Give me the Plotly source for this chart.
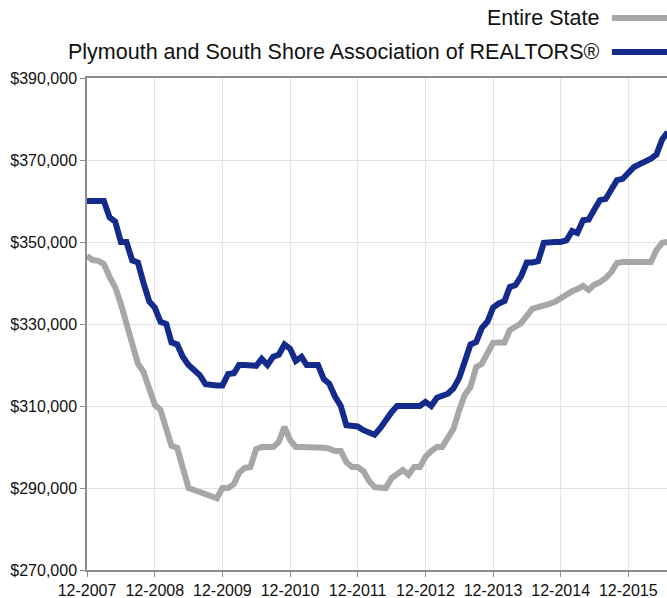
import plotly.graph_objects as go
import pandas as pd

# Monthly median sales price (rolling), Dec 2007 onward
months = pd.date_range("2007-12-01", periods=104, freq="MS")

plymouth_name = "Plymouth and South Shore Association of REALTORS®"
state_name = "Entire State"

plymouth = [
    360000, 360000, 360000, 360000, 356000, 355000, 350000, 350000, 345500, 345000,
    340000, 335500, 334000, 330500, 330000, 325500, 325000, 322000, 320000, 318800,
    317500, 315300, 315000, 315000, 315000, 317800, 318000, 320000, 320000, 320000,
    319800, 321500, 320000, 322000, 322500, 325000, 324000, 321000, 322000, 320000,
    320000, 320000, 316600, 315400, 312300, 310000, 305300, 305000, 305000, 304100,
    303700, 303000, 304600, 306600, 308500, 310000, 310000, 310000, 310000, 310000,
    311000, 310000, 312000, 312500, 313000, 314300, 316800, 320800, 325000, 325600,
    329000, 330600, 334000, 335000, 335600, 339000, 339500, 341600, 345000, 345000,
    345300, 349800, 350000, 350000, 350000, 350400, 352700, 352200, 355300, 355500,
    357900, 360200, 360500, 362600, 365100, 365400, 366800, 368300, 369000, 369600,
    370300, 371300, 375000, 376800,
]

state = [
    346600, 345600, 345400, 344600, 341500, 339000, 334900, 329800, 325400, 320300,
    318300, 314600, 310300, 309000, 304700, 300300, 299800, 295100, 290000, 289500,
    288900, 288600, 288000, 287500, 290000, 290000, 291000, 293700, 294900, 295100,
    299500, 300000, 300000, 300000, 301200, 304900, 301700, 300000, 300000, 300000,
    300000, 300000, 299800, 299600, 299000, 299000, 296300, 295100, 295100, 294100,
    291700, 290200, 290000, 290000, 292400, 293200, 294400, 293200, 295100, 295100,
    297600, 299000, 300000, 300000, 302000, 304400, 309000, 312700, 314600, 319500,
    320300, 322900, 325400, 325500, 325500, 328500, 329200, 330200, 332000, 333700,
    334100, 334400, 334900, 335400, 336300, 337300, 338000, 338500, 339300, 338300,
    339600, 340200, 341200, 342700, 344900, 345100, 345100, 345100, 345100, 345100,
    345100, 348000, 349800, 350000,
]

tick_dates = ["2007-12-01", "2008-12-01", "2009-12-01", "2010-12-01", "2011-12-01",
              "2012-12-01", "2013-12-01", "2014-12-01", "2015-12-01"]
tick_labels = ["12-2007", "12-2008", "12-2009", "12-2010", "12-2011",
               "12-2012", "12-2013", "12-2014", "12-2015"]
y_ticks = [270000, 290000, 310000, 330000, 350000, 370000, 390000]
y_labels = ["$" + f"{v:,}" for v in y_ticks]

gray = "#A7A7A7"
blue = "#142B8C"

fig = go.Figure()
fig.add_trace(go.Scatter(x=months, y=state, mode="lines", name=state_name,
                         line=dict(color=gray, width=6), showlegend=False))
fig.add_trace(go.Scatter(x=months, y=plymouth, mode="lines", name=plymouth_name,
                         line=dict(color=blue, width=6), showlegend=False))

font_family = "Liberation Sans, Arial, sans-serif"

# Legend drawn manually: text on the left, line sample on the right
legend_items = [(state_name, gray, 1.122), (plymouth_name, blue, 1.053)]
for name, color, ypos in legend_items:
    fig.add_annotation(text=name, xref="paper", yref="paper", x=0.886, y=ypos,
                       xanchor="right", yanchor="middle", showarrow=False,
                       font=dict(family=font_family, size=21.5, color="#111111"))
    fig.add_shape(type="line", xref="paper", yref="paper", x0=0.905, x1=1.08,
                  y0=ypos, y1=ypos, line=dict(color=color, width=6))

fig.update_layout(
    width=667, height=598,
    margin=dict(l=87, r=0, t=78, b=28),
    paper_bgcolor="white", plot_bgcolor="white",
    font=dict(family=font_family, size=16, color="#111111"),
)
fig.update_xaxes(
    range=["2007-12-01", "2016-06-27"],
    tickvals=tick_dates, ticktext=tick_labels,
    showgrid=True, gridcolor="#E4E4E4", gridwidth=1,
    showline=True, linecolor="#8C8C8C", linewidth=1.5, mirror=True,
    ticks="outside", ticklen=5, tickcolor="#8C8C8C",
    zeroline=False,
)
fig.update_yaxes(
    range=[270000, 390000],
    tickvals=y_ticks, ticktext=y_labels,
    showgrid=True, gridcolor="#E4E4E4", gridwidth=1,
    showline=True, linecolor="#8C8C8C", linewidth=1.5,
    ticks="outside", ticklen=5, tickcolor="#8C8C8C",
    zeroline=False,
)

fig.write_html("out.html", config={"displayModeBar": False},
               post_script="document.body.style.margin='0';")
